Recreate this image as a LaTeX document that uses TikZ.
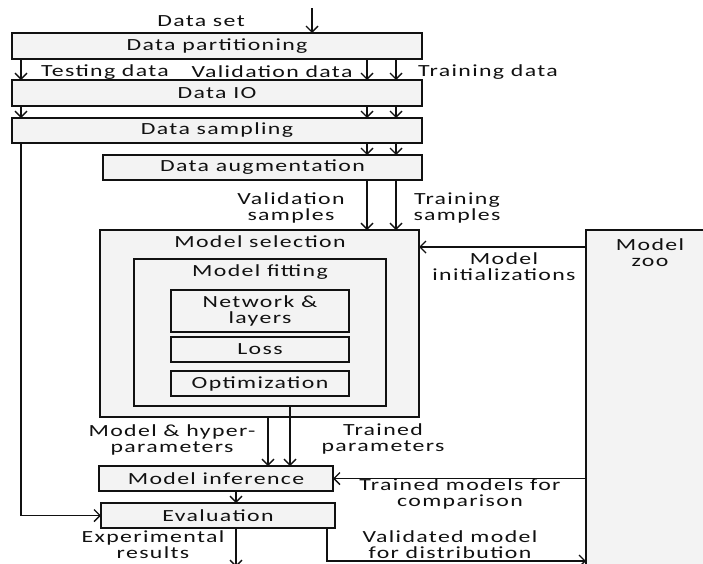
\documentclass[tikz,border=0pt]{standalone}
\usepackage{fontspec}
\setmainfont{Carlito}[FakeStretch=1.4,LetterSpace=8]
\usetikzlibrary{arrows.meta}
\definecolor{boxfill}{HTML}{F3F3F3}
\definecolor{ink}{HTML}{111111}
\begin{document}
\begin{tikzpicture}[x=1pt,y=-1pt,
  every node/.style={font=\fontsize{17}{16}\selectfont, text=ink},
  box/.style={draw=ink, fill=boxfill, line width=1.4pt, inner sep=0pt, outer sep=0pt, anchor=center},
  lbl/.style={align=center, inner sep=0pt},
  arr/.style={draw=ink, line width=1.4pt, -{Straight Barb[length=6pt,width=12pt]}},
  ln/.style={draw=ink, line width=1.4pt}]
\useasboundingbox (0,0) rectangle (703,563);
\clip (0,0) rectangle (703,563);
\fill[white] (0,0) rectangle (703,563);
% boxes
\node[box, minimum width=410, minimum height=26] (part) at (217,46) {Data partitioning};
\node[box, minimum width=410, minimum height=26] (io) at (217,93) {Data IO};
\node[box, minimum width=410, minimum height=25] (samp) at (217,130.5) {Data sampling};
\node[box, minimum width=319, minimum height=25] (aug) at (262.5,167.5) {Data augmentation};
\node[box, minimum width=319, minimum height=187] (sel) at (259.5,323.5) {};
\node[lbl] (seltxt) at (260,242) {Model selection};
\node[box, minimum width=252, minimum height=147] (fit) at (260,332.5) {};
\node[lbl] (fittxt) at (260,272) {Model fitting};
\node[box, minimum width=178, minimum height=42, align=center] (net) at (260,311) {Network \&\\layers};
\node[box, minimum width=178, minimum height=25] (loss) at (260,349.5) {Loss};
\node[box, minimum width=178, minimum height=25] (opt) at (260,383.5) {Optimization};
\node[box, minimum width=234, minimum height=25] (inf) at (216,478.5) {Model inference};
\node[box, minimum width=234, minimum height=25] (eval) at (218,515.5) {Evaluation};
\node[box, minimum width=128, minimum height=370] (zoo) at (650,415) {};
\node[lbl] (zootxt) at (650,253) {Model\\zoo};
% columns
\coordinate (cL) at (21,0);
\coordinate (cV) at (367,0);
\coordinate (cT) at (396,0);
\coordinate (dsin) at (312,8);
% top arrows
\draw[arr] (dsin) -- (part.north -| dsin);
\draw[arr] (part.south -| cL) -- (io.north -| cL);
\draw[arr] (part.south -| cV) -- (io.north -| cV);
\draw[arr] (part.south -| cT) -- (io.north -| cT);
\draw[arr] (io.south -| cL) -- (samp.north -| cL);
\draw[arr] (io.south -| cV) -- (samp.north -| cV);
\draw[arr] (io.south -| cT) -- (samp.north -| cT);
\draw[arr] (samp.south -| cV) -- (aug.north -| cV);
\draw[arr] (samp.south -| cT) -- (aug.north -| cT);
\draw[arr] (aug.south -| cV) -- (sel.north -| cV);
\draw[arr] (aug.south -| cT) -- (sel.north -| cT);
% zoo arrows
\coordinate (yinit) at (0,247);
\draw[arr] (zoo.west |- yinit) -- (sel.east |- yinit);
\draw[arr] (zoo.west |- inf.east) -- (inf.east);
% model selection to inference
\coordinate (cA) at (268,0);
\coordinate (cB) at (290,0);
\draw[arr] (sel.south -| cA) -- (inf.north -| cA);
\draw[arr] (fit.south -| cB) -- (inf.north -| cB);
% inference to evaluation
\coordinate (cE) at (236,0);
\draw[arr] (inf.south -| cE) -- (eval.north -| cE);
\draw[arr] (samp.south -| cL) |- (eval.west);
\coordinate (outres) at (236,567);
\draw[arr] (eval.south -| cE) -- (outres);
\coordinate (cD) at (327,0);
\coordinate (ydist) at (0,561);
\draw[arr] (eval.south -| cD) |- (zoo.west |- ydist);
% labels
\node[lbl] (ldata) at (201,21) {Data set};
\node[lbl] (ltest) at (105,72) {Testing data};
\node[lbl] (lval) at (272,72) {Validation data};
\node[lbl] (ltrain) at (488,72) {Training data};
\node[lbl] (lvs) at (291,208) {Validation\\samples};
\node[lbl] (lts) at (457,208) {Training\\samples};
\node[lbl] (linit) at (504,267) {Model\\initializations};
\node[lbl] (lhyp) at (172,440) {Model \& hyper-\\parameters};
\node[lbl] (ltp) at (383,439) {Trained\\parameters};
\node[lbl] (lcmp) at (460,494) {Trained models for\\comparison};
\node[lbl] (lexp) at (153,545) {Experimental\\results};
\node[lbl] (ldist) at (450,545) {Validated model\\for distribution};
\end{tikzpicture}
\end{document}
